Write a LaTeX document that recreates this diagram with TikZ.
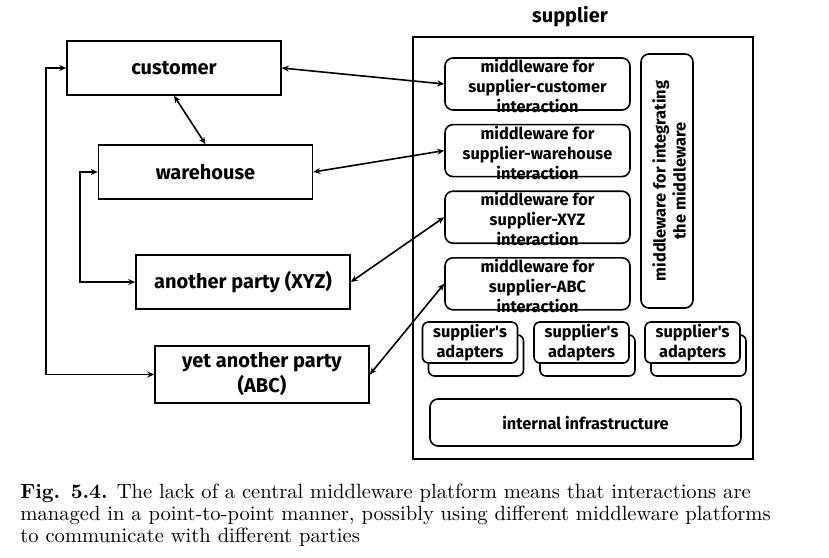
\documentclass[tikz,border=0pt]{standalone}
\usepackage{fontspec}
\newfontfamily\diagfont{Fira Sans}
\usetikzlibrary{arrows.meta,positioning}

\begin{document}
\begin{tikzpicture}[
    x=0.5pt, y=-0.5pt,
    node distance=6.5pt and 6pt,
    every node/.style={font=\diagfont\bfseries\fontsize{8.2}{10}\selectfont},
    party/.style={rectangle, draw=black, thick, minimum width=107pt, minimum height=27pt, align=center, font=\diagfont\bfseries\fontsize{10}{12.5}\selectfont},
    mwbox/.style={rectangle, draw=black, thick, rounded corners=4pt, minimum width=92.5pt, minimum height=26pt},
    adapter/.style={rectangle, draw=black, thick, fill=white, rounded corners=3pt, minimum width=47.5pt, minimum height=20.5pt, align=center, inner sep=0pt},
    arrow/.style={thick,<->,>={Stealth[length=3.5pt,width=3pt]}}
]
    \useasboundingbox (0,0) rectangle (829,557);

    % Parties
    \node[party] (customer) at (174,68) {customer};
    \node[party] (warehouse) at (205.5,172) {warehouse};
    \node[party] (xyz) at (243,282) {another party (XYZ)};
    \node[party] (abc) at (262,374.5) {yet another party\\(ABC)};

    % Supplier
    \node[draw=black, thick, minimum width=170pt, minimum height=211pt] (supplier) at (583,248) {};
    \node[font=\diagfont\bfseries\fontsize{10}{12}\selectfont] (suppliername) at (570,17) {supplier};

    \node[mwbox, label={[align=center, yshift=-1pt]center:{middleware for\\supplier-customer\\interaction}}] (mwA) at (537.5,84) {};
    \node[mwbox, below=of mwA, label={[align=center, yshift=-1pt]center:{middleware for\\supplier-warehouse\\interaction}}] (mwB) {};
    \node[mwbox, below=of mwB, label={[align=center, yshift=-1pt]center:{middleware for\\supplier-XYZ\\interaction}}] (mwC) {};
    \node[mwbox, below=of mwC, label={[align=center, yshift=-1pt]center:{middleware for\\supplier-ABC\\interaction}}] (mwD) {};

    \node[mwbox, minimum width=26pt, minimum height=127pt] (integrate) at (667,181) {};
    \node[rotate=90, align=center] (integratetext) at (669,181) {middleware for integrating\\the middleware};

    \foreach \x/\n in {470/A,581.5/B,692.5/C}{
        \node[adapter] (back\n) at (\x+6,355.5) {};
        \node[adapter] (adapt\n) at (\x,342.5) {supplier's\\adapters};
    }

    \node[mwbox, minimum width=155.5pt, minimum height=23.5pt] (infra) at (585.5,422.5) {internal infrastructure};

    % Arrows
    \draw[arrow] (customer.east) -- (mwA.west);
    \draw[arrow] (warehouse.east) -- (mwB.west);
    \draw[arrow] (xyz.east) -- (mwC.west);
    \draw[arrow] (abc.east) -- (mwD.west);
    \draw[arrow] (customer.south) -- (warehouse.north);
    \draw[arrow] (customer.west) -- ++(-20,0) |- (abc.west);
    \draw[arrow] (warehouse.west) -- ++(-18,0) |- (xyz.west);

    % Caption
    \node[anchor=north west, align=left, inner sep=0pt, font=\fontsize{10.3}{11}\selectfont] (caption) at (20,484)
        {\textbf{Fig. 5.4.} The lack of a central middleware platform means that interactions are\\
         managed in a point-to-point manner, possibly using different middleware platforms\\
         to communicate with different parties};

\end{tikzpicture}
\end{document}
